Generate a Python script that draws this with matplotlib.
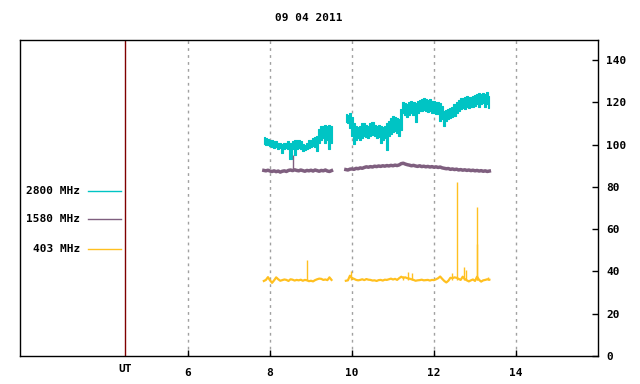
import numpy as np
import matplotlib
matplotlib.use("Agg")
import matplotlib.pyplot as plt

title = "09 04 2011"
series_names = ["2800 MHz", "1580 MHz", "403 MHz"]
colors = ["#00c4c4", "#7f5f7f", "#ffc020"]
xticks = [6, 8, 10, 12, 14]
yticks = [0, 20, 40, 60, 80, 100, 120, 140]
ut_line = 4.463

# time grids (hours UT)
t1 = np.round(np.arange(7.85, 9.5001, 0.05), 2)
t2 = np.round(np.arange(9.85, 13.3501, 0.05), 2)

# 2800 MHz envelope (low / high)
c_lo1 = [100.5, 100, 100, 99.5, 99, 98.5, 99, 98, 98.5, 96, 98, 98.5, 98, 93, 98, 95, 98,
         98.5, 98, 97, 97.5, 98, 98.5, 99, 99.5, 99, 97, 101, 102, 103, 101, 102, 98, 101]
c_hi1 = [103.5, 103, 102.5, 102, 102, 101.5, 101.5, 101, 101, 100.5, 101, 101, 101.5, 101,
         101.5, 102, 102, 102, 101.5, 100.5, 100, 101, 102, 102, 103, 103.5, 104, 107.5, 109,
         109, 109.5, 109, 109.5, 109]
c_lo2 = [110.5, 110, 108, 104, 100.5, 102, 103, 102, 103, 104, 103.5, 103, 104, 104.5, 104,
         103, 103.5, 101, 102, 103, 97.5, 104, 105, 106, 106.5, 105.5, 104, 107, 115, 114,
         113, 114, 115, 114, 110.5, 115, 116, 116, 116.5, 116, 115.5, 116, 115, 115, 114.5,
         114.5, 111, 112, 109, 111, 112, 112.5, 113, 113.5, 115, 116, 117, 117.5, 117, 118,
         117.5, 118, 118, 118.5, 119, 118, 119, 119.5, 118, 119, 117.5]
c_hi2 = [114.5, 114, 115, 113, 110, 109, 108.5, 109, 110, 110, 109.5, 109, 110, 110.5,
         109.5, 109, 109.5, 109, 108.5, 109, 110, 111, 112.5, 113.5, 113, 112.5, 112, 117,
         120, 119.5, 119, 120, 120.5, 120, 119.5, 120.5, 121, 121.5, 122, 121.5, 121, 121.5,
         120.5, 120.5, 120, 120, 119.5, 118.5, 116, 116.5, 117, 117.5, 118, 119, 120, 121,
         122, 122, 122.5, 123, 122.5, 122.5, 123, 123.5, 124, 124.5, 124, 124.5, 124, 125, 123]

# 1580 MHz
p1 = [87.8, 87.6, 87.9, 87.5, 87.3, 87.6, 87.2, 87.5, 87.0, 87.4, 87.6, 87.3, 87.8, 88.0,
      87.7, 88.1, 87.8, 87.6, 88.0, 87.7, 87.4, 87.8, 87.6, 87.9, 87.5, 88.0, 87.7, 87.4,
      87.8, 87.6, 88.0, 87.5, 87.3, 87.7]
p2 = [88.2, 88.0, 88.4, 88.5, 88.3, 88.8, 88.6, 89.0, 88.8, 89.2, 89.5, 89.3, 89.6, 89.4,
      89.8, 89.6, 89.9, 89.7, 90.0, 89.8, 90.1, 89.9, 90.2, 90.0, 90.3, 90.1, 90.4, 91.0,
      91.2, 90.8, 90.5, 90.3, 90.0, 90.2, 89.9, 89.7, 90.0, 89.6, 89.8, 89.5, 89.7, 89.4,
      89.6, 89.3, 89.5, 89.2, 89.4, 89.0, 88.8, 88.6, 88.7, 88.3, 88.5, 88.2, 88.4, 88.0,
      88.2, 87.9, 88.1, 87.8, 88.0, 87.7, 87.9, 87.6, 87.8, 87.5, 87.7, 87.4, 87.6, 87.3, 87.5]
p_spike_t = [8.56]
p_spike_v = [95.0]

# 403 MHz
o1 = [35.5, 36.0, 37.3, 35.8, 34.6, 35.8, 37.2, 36.3, 35.6, 35.9, 36.2, 36.0, 35.5, 36.3,
      36.1, 35.7, 36.0, 35.8, 36.1, 35.6, 36.0, 35.8, 35.4, 35.6, 35.3, 35.9, 36.3, 36.6,
      36.5, 36.0, 36.2, 35.9, 37.2, 36.0]
o2 = [35.6, 35.8, 38.0, 36.8, 36.5, 36.0, 35.8, 36.0, 36.3, 35.9, 36.4, 36.1, 36.0, 35.7,
      35.8, 35.5, 35.9, 36.0, 35.7, 36.1, 36.0, 36.3, 36.6, 36.2, 36.5, 36.0, 36.8, 37.5,
      37.0, 37.2, 36.8, 36.6, 36.3, 36.0, 35.6, 35.8, 35.9, 36.1, 35.8, 35.9, 36.0, 35.7,
      36.0, 35.9, 36.3, 36.8, 37.6, 36.5, 35.5, 34.8, 35.6, 37.0, 36.8, 37.2, 37.0, 36.5,
      36.0, 37.5, 36.4, 35.8, 35.3, 35.8, 36.2, 35.5, 37.5, 36.0, 35.2, 35.8, 36.0, 36.3, 36.1]
o_spike_t = [8.895, 9.98, 11.25, 11.37, 11.46, 12.44, 12.55, 12.73, 12.79, 13.05, 13.06, 13.32]
o_spike_v = [45.5, 40.3, 37.8, 39.9, 39.4, 39.4, 82.5, 42.2, 40.7, 70.5, 53.0, 37.5]
o_base = 36.0

font = dict(family="DejaVu Sans Mono", weight="bold", size=8)

fig = plt.figure(figsize=(6.4, 3.84), dpi=100)
ax = fig.add_axes([20 / 640, 1 - 356 / 384, 578 / 640, 316 / 384])
ax.set_xlim(1.902, 16.0)
ax.set_ylim(0, 149.5)

for x in xticks:
    ax.axvline(x, color="#a0a0a0", lw=1, ls=(0, (2, 3)), zorder=1)
ax.axvline(ut_line, color="#800000", lw=1, zorder=2)

# 2800 MHz
for t, lo, hi in [(t1, c_lo1, c_hi1), (t2, c_lo2, c_hi2)]:
    ax.fill_between(t, lo, hi, step="mid", color=colors[0], lw=0.8, zorder=3)
# 1580 MHz
ax.plot(t1, p1, color=colors[1], lw=2.5, zorder=3)
ax.plot(t2, p2, color=colors[1], lw=2.5, zorder=3)
ax.vlines(p_spike_t, 88, p_spike_v, color=colors[1], lw=1, zorder=3)
# 403 MHz
ax.plot(t1, o1, color=colors[2], lw=1.6, zorder=3)
ax.plot(t2, o2, color=colors[2], lw=1.6, zorder=3)
ax.vlines(o_spike_t, o_base, o_spike_v, color=colors[2], lw=1, zorder=3)

# legend (manual, inside left area)
leg_y = [0.521, 0.4326, 0.3396]
for name, c, y in zip(series_names, colors, leg_y):
    ax.plot([0.1176, 0.1747], [y, y], color=c, lw=1, transform=ax.transAxes)
    ax.text(0.1038, y, name, ha="right", va="center", transform=ax.transAxes, **font)

ax.set_xticks(xticks)
ax.set_xticklabels([str(v) for v in xticks], fontdict=font)
ax.tick_params(axis="x", direction="in", length=4, width=1, pad=9)
ax.yaxis.tick_right()
ax.set_yticks(yticks)
ax.set_yticklabels([str(v) for v in yticks], fontdict=font)
ax.tick_params(axis="y", direction="in", length=4, width=1, pad=6)
ax.text(ut_line, -0.04, "UT", ha="center", va="center",
        transform=ax.get_xaxis_transform(), **font)
for s in ax.spines.values():
    s.set_linewidth(1)
ax.set_title(title, fontdict=font, pad=14)

fig.savefig("out.png", dpi=100)
